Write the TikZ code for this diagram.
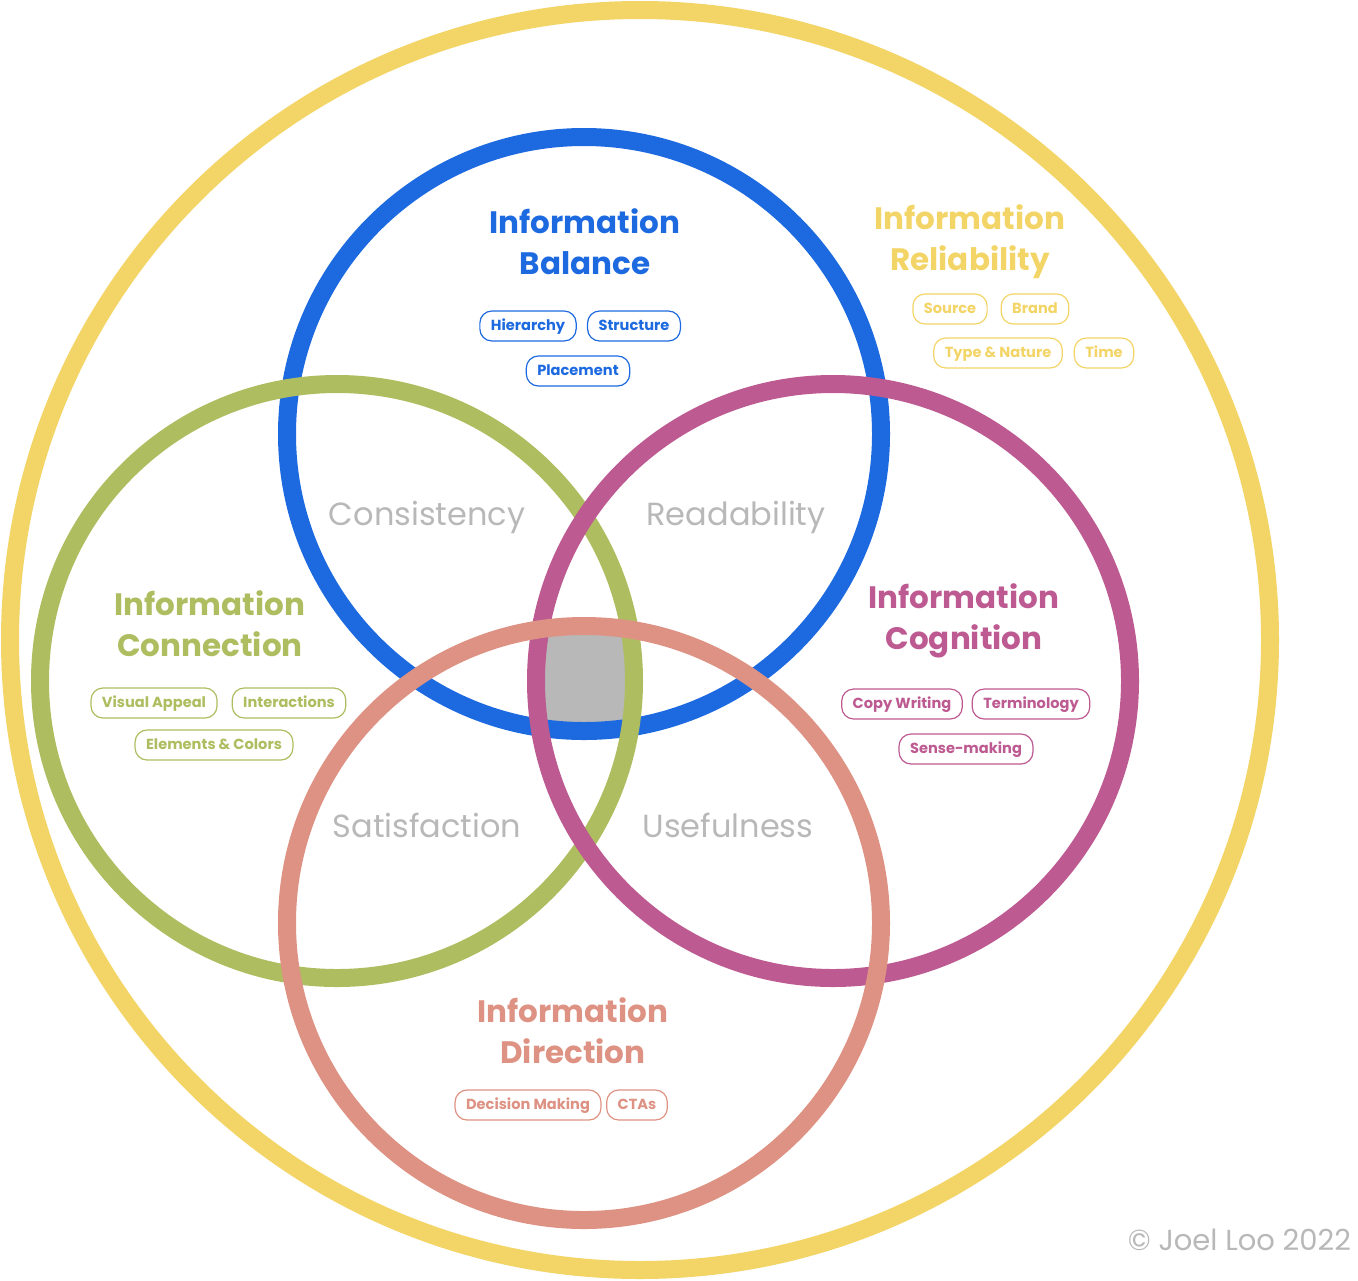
\documentclass[tikz,border=0pt]{standalone}
\usepackage{fontspec}
\setmainfont{Poppins}
\begin{document}
\begin{tikzpicture}[x=0.5pt,y=-0.5pt,
  ring/.style={line width=9pt},
  ttl/.style={font=\bfseries\fontsize{15.5}{20.5}\selectfont,align=center},
  tag/.style={draw=#1,text=#1,line width=0.6pt,rounded corners=6pt,fill=white,inner xsep=5.5pt,inner ysep=0pt,minimum height=15pt,text height=6pt,text depth=1.5pt,font=\bfseries\fontsize{7.3}{8}\selectfont},
  lbl/.style={text=lbgray,font=\fontsize{16}{18}\selectfont}]
\definecolor{colY}{HTML}{F3D567}
\definecolor{colB}{HTML}{1D6AE0}
\definecolor{colG}{HTML}{AEBD5F}
\definecolor{colM}{HTML}{BD5A91}
\definecolor{colS}{HTML}{DE9283}
\definecolor{lbgray}{HTML}{B8B8B8}
\useasboundingbox (0,0) rectangle (1358,1280);
\begin{scope}
\clip (584,434) circle (297);
\clip (337,681) circle (297);
\clip (833,681) circle (297);
\clip (584,923) circle (297);
\fill[lbgray] (0,0) rectangle (1358,1280);
\end{scope}
\draw[ring,colY] (640,640) circle (630);
\draw[ring,colB] (584,434) circle (297);
\draw[ring,colG] (337,681) circle (297);
\draw[ring,colM] (833,681) circle (297);
\draw[ring,colS] (584,923) circle (297);
\node[ttl,text=colB] (tb) at (585,242) {Information\\Balance};
\node[ttl,text=colY] (ty) at (970,242) {Information\\Reliability};
\node[ttl,text=colG] (tg) at (210,624) {Information\\Connection};
\node[ttl,text=colM] (tm) at (964,621) {Information\\Cognition};
\node[ttl,text=colS] (ts) at (573,1031) {Information\\Direction};
\node[tag=colB] (b1) at (528,326) {Hierarchy};
\node[tag=colB] (b2) at (634,326) {Structure};
\node[tag=colB] (b3) at (578,371) {Placement};
\node[tag=colY] (y1) at (950,309) {Source};
\node[tag=colY] (y2) at (1035,309) {Brand};
\node[tag=colY] (y3) at (998,353) {Type \& Nature};
\node[tag=colY] (y4) at (1104,353) {Time};
\node[tag=colG] (g1) at (154,703) {Visual Appeal};
\node[tag=colG] (g2) at (289,703) {Interactions};
\node[tag=colG] (g3) at (214,745) {Elements \& Colors};
\node[tag=colM] (m1) at (902,704) {Copy Writing};
\node[tag=colM] (m2) at (1031,704) {Terminology};
\node[tag=colM] (m3) at (966,749) {Sense-making};
\node[tag=colS] (s1) at (528,1105) {Decision Making};
\node[tag=colS] (s2) at (637,1105) {CTAs};
\node[lbl] (l1) at (427,517) {Consistency};
\node[lbl] (l2) at (736,517) {Readability};
\node[lbl] (l3) at (427,825) {Satisfaction};
\node[lbl] (l4) at (728,825) {Usefulness};
\node[lbl,anchor=east,font=\fontsize{14.5}{16}\selectfont] (cp) at (1358,1240) {© Joel Loo 2022};
\end{tikzpicture}
\end{document}
